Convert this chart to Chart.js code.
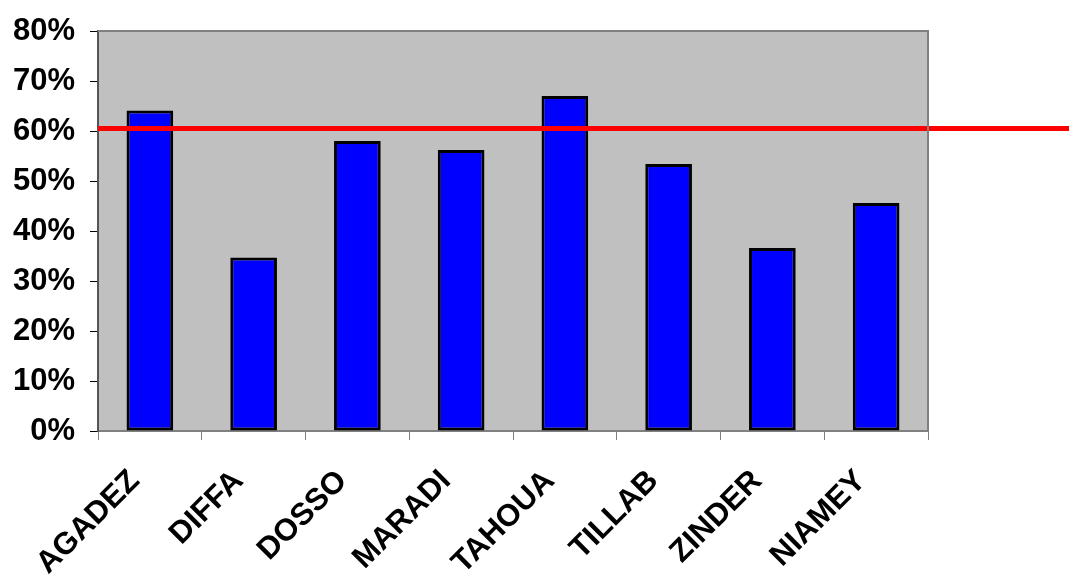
<!DOCTYPE html>
<html>
<head>
<meta charset="utf-8">
<style>
  html, body { margin: 0; padding: 0; background: #ffffff; }
  #wrap { width: 1069px; height: 575px; position: relative; }
</style>
<script src="https://cdn.jsdelivr.net/npm/chart.js@4/dist/chart.umd.min.js"></script>
</head>
<body>
<div id="wrap"><canvas id="c" width="1069" height="575"></canvas></div>
<script>
const categories = ["AGADEZ", "DIFFA", "DOSSO", "MARADI", "TAHOUA", "TILLAB", "ZINDER", "NIAMEY"];
const values = [64.1, 34.7, 58.0, 56.2, 67.0, 53.4, 36.6, 45.6];
const referenceLine = [60.5];
const yTicks = [0, 10, 20, 30, 40, 50, 60, 70, 80];

const plotBg = {
  id: 'plotBg',
  beforeDraw(chart) {
    const { ctx, chartArea: a } = chart;
    ctx.save();
    ctx.fillStyle = '#C0C0C0';
    ctx.fillRect(a.left, a.top, a.right - a.left, a.bottom - a.top);
    ctx.restore();
  },
  afterDraw(chart) {
    const { ctx, chartArea: a } = chart;
    ctx.save();
    ctx.strokeStyle = '#808080';
    ctx.lineWidth = 2;
    ctx.beginPath();
    ctx.moveTo(a.left, a.top);
    ctx.lineTo(a.right, a.top);
    ctx.lineTo(a.right, a.bottom);
    ctx.stroke();
    ctx.restore();
  }
};

const refLine = {
  id: 'refLine',
  afterDatasetsDraw(chart) {
    const { ctx, chartArea: a } = chart;
    const y = chart.scales.y.getPixelForValue(referenceLine[0]);
    ctx.save();
    ctx.strokeStyle = '#FF0000';
    ctx.lineWidth = 5;
    ctx.beginPath();
    ctx.moveTo(a.left, y);
    ctx.lineTo(chart.width, y);
    ctx.stroke();
    ctx.restore();
  }
};

new Chart(document.getElementById('c'), {
  type: 'bar',
  data: {
    labels: categories,
    datasets: [{
      data: values,
      backgroundColor: '#0000FF',
      borderColor: '#000000',
      borderWidth: 3,
      borderSkipped: false,
      barPercentage: 0.45,
      categoryPercentage: 1.0
    }]
  },
  options: {
    responsive: false,
    animation: false,
    devicePixelRatio: 1,
    layout: { padding: { left: 0, right: 141, top: 31, bottom: 0 } },
    plugins: { legend: { display: false }, tooltip: { enabled: false } },
    scales: {
      x: {
        offset: true,
        grid: { offset: true, drawOnChartArea: false, drawTicks: true, tickLength: 9, color: '#808080', lineWidth: 1 },
        border: { display: true, color: '#808080', width: 2 },
        ticks: {
          maxRotation: 45, minRotation: 45, autoSkip: false,
          color: '#000000', padding: 23, labelOffset: -15,
          font: { family: 'Liberation Sans, Arial, sans-serif', weight: 'bold', size: 31 }
        },
        afterFit(scale) { scale.height = 144; scale.paddingLeft = 0; scale.paddingRight = 0; }
      },
      y: {
        min: 0, max: 80,
        afterBuildTicks(scale) { scale.ticks = yTicks.map(v => ({ value: v })); },
        grid: { drawOnChartArea: false, drawTicks: true, tickLength: 8, color: '#000000', lineWidth: 1 },
        border: { display: true, color: '#555555', width: 2 },
        ticks: {
          color: '#000000', padding: 15,
          callback: v => v + '%',
          font: { family: 'Liberation Sans, Arial, sans-serif', weight: 'bold', size: 31 }
        },
        afterFit(scale) { scale.width = 98; scale.paddingTop = 0; scale.paddingBottom = 0; }
      }
    }
  },
  plugins: [plotBg, refLine]
});
</script>
</body>
</html>
